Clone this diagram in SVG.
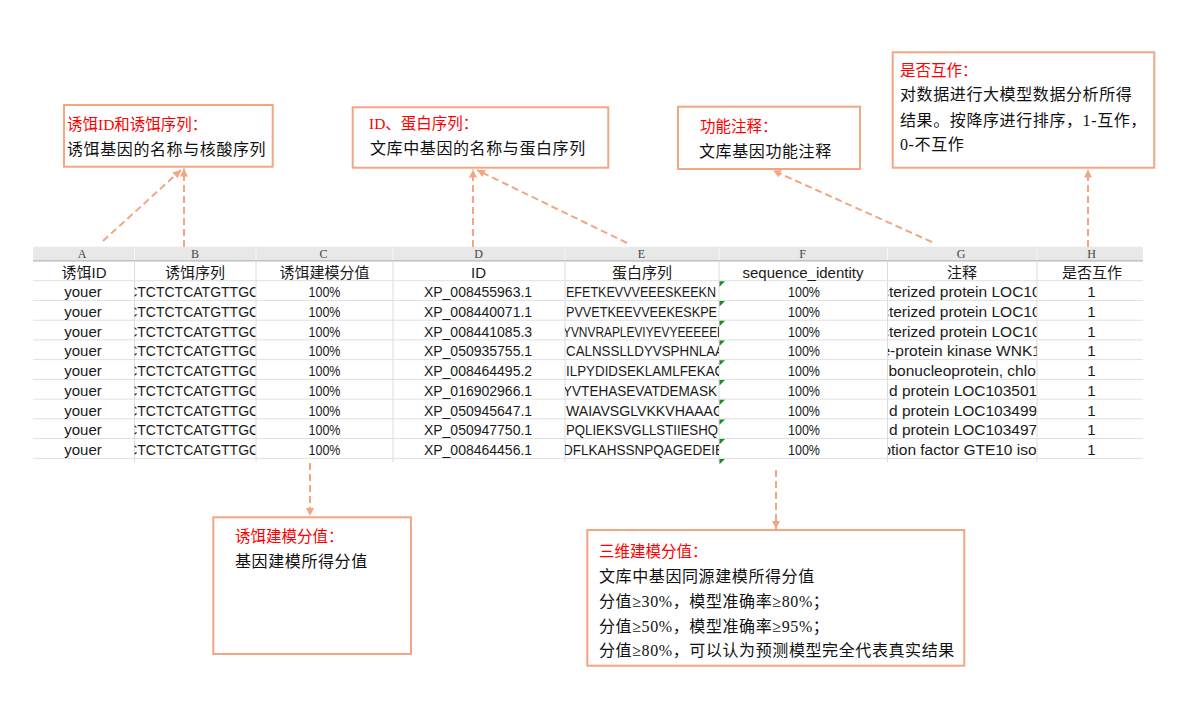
<svg xmlns="http://www.w3.org/2000/svg" width="1197" height="713" viewBox="0 0 1197 713">
<style>
.box{fill:#fff;stroke:#F3A682;stroke-width:2}
.con{fill:none;stroke:#F3A682;stroke-width:2;stroke-dasharray:7 4}
.ttl{font-family:"Liberation Serif","Noto Sans CJK SC",serif;font-size:15.5px;fill:#ff0000}
.bd{font-family:"Liberation Serif","Noto Sans CJK SC",serif;font-size:16px;letter-spacing:0.6px;fill:#111}
.col{font-family:"Liberation Serif","Noto Sans CJK SC",serif;font-size:12px;fill:#444;text-anchor:middle}
.hd{font-family:"Liberation Sans","Noto Sans CJK SC",sans-serif;font-size:15px;fill:#1a1a1a;text-anchor:middle}
.t{font-family:"Liberation Sans","Noto Sans CJK SC",sans-serif;font-size:14px;fill:#1a1a1a}
.c{text-anchor:middle}
.a{font-size:15px}
.g{font-size:15.5px}
.hl{stroke:#e0e0e0;stroke-width:1}
.vl{stroke:#dcdcdc;stroke-width:1}
.tri{fill:#1f8a1f}
</style>
<defs>
<marker id="ah" viewBox="0 0 10 10" refX="10" refY="5" markerWidth="8" markerHeight="8" markerUnits="userSpaceOnUse" orient="auto">
<path d="M0,0 L10,5 L0,10 z" fill="#F3A682"/>
</marker>
<clipPath id="clipB"><rect x="134.5" y="-5" width="121" height="30"/></clipPath>
<clipPath id="clipE"><rect x="565" y="-5" width="154" height="30"/></clipPath>
<clipPath id="clipG"><rect x="888" y="-5" width="148.5" height="30"/></clipPath>
<path id="gt" d="M0,0.6 h5.5 L0,6 z"/>
</defs>
<rect width="1197" height="713" fill="#fff"/>

<g id="table">
<rect x="33" y="246.7" width="1110" height="14" fill="#e8e8e8"/>
<rect x="33" y="260" width="1110" height="1.6" fill="#c4c4c4"/>
<g stroke="#f6f6f6" stroke-width="1">
<line x1="134.5" y1="247" x2="134.5" y2="260"/>
<line x1="256" y1="247" x2="256" y2="260"/>
<line x1="393" y1="247" x2="393" y2="260"/>
<line x1="565" y1="247" x2="565" y2="260"/>
<line x1="719" y1="247" x2="719" y2="260"/>
<line x1="887.5" y1="247" x2="887.5" y2="260"/>
<line x1="1037" y1="247" x2="1037" y2="260"/>
</g>
<text class="col" x="82" y="258">A</text>
<text class="col" x="195" y="258">B</text>
<text class="col" x="323.5" y="258">C</text>
<text class="col" x="478.5" y="258">D</text>
<text class="col" x="641.5" y="258">E</text>
<text class="col" x="802.5" y="258">F</text>
<text class="col" x="961" y="258">G</text>
<text class="col" x="1091.5" y="258">H</text>

<g class="vl">
<line x1="134.5" y1="261" x2="134.5" y2="462"/>
<line x1="256" y1="261" x2="256" y2="462"/>
<line x1="393" y1="261" x2="393" y2="462"/>
<line x1="565" y1="261" x2="565" y2="462"/>
<line x1="719" y1="261" x2="719" y2="462"/>
<line x1="887.5" y1="261" x2="887.5" y2="462"/>
<line x1="1037" y1="261" x2="1037" y2="462"/>
</g>
<g class="hl">
<line x1="33" y1="280.7" x2="1143" y2="280.7"/>
<line x1="33" y1="300.4" x2="1143" y2="300.4"/>
<line x1="33" y1="320.2" x2="1143" y2="320.2"/>
<line x1="33" y1="339.9" x2="1143" y2="339.9"/>
<line x1="33" y1="359.6" x2="1143" y2="359.6"/>
<line x1="33" y1="379.4" x2="1143" y2="379.4"/>
<line x1="33" y1="399.1" x2="1143" y2="399.1"/>
<line x1="33" y1="418.8" x2="1143" y2="418.8"/>
<line x1="33" y1="438.5" x2="1143" y2="438.5"/>
<line x1="33" y1="458.3" x2="1143" y2="458.3"/>
</g>

<text class="hd" x="84" y="277.5">诱饵ID</text>
<text class="hd" x="195" y="277.5">诱饵序列</text>
<text class="hd" x="324.5" y="277.5">诱饵建模分值</text>
<text class="hd" x="478.5" y="277.5">ID</text>
<text class="hd" x="642" y="277.5">蛋白序列</text>
<text class="hd" x="803" y="277.5">sequence_identity</text>
<text class="hd" x="962" y="277.5">注释</text>
<text class="hd" x="1092" y="277.5">是否互作</text>

<g id="rows">
<g id="row1" transform="translate(0,280.7)">
<use href="#gt" x="719.5" class="tri"/>
<text class="t c a" x="83" y="16.5">youer</text>
<text class="t" x="127.2" y="16.5" clip-path="url(#clipB)">CTCTCTCATGTTGC</text>
<text class="t c" x="324.5" y="16.5" textLength="32" lengthAdjust="spacingAndGlyphs">100%</text>
<text class="t c" x="478" y="16.5">XP_008455963.1</text>
<text class="t" x="566" y="16.5" textLength="150" lengthAdjust="spacingAndGlyphs" clip-path="url(#clipE)">EFETKEVVVEEESKEEKN</text>
<text class="t c" x="804" y="16.5" textLength="32" lengthAdjust="spacingAndGlyphs">100%</text>
<text class="t g" x="881.2" y="16.5" clip-path="url(#clipG)">cterized protein LOC10</text>
<text class="t c a" x="1091.5" y="16.5">1</text>
</g>
<g id="row2" transform="translate(0,300.4)">
<use href="#gt" x="719.5" class="tri"/>
<text class="t c a" x="83" y="16.5">youer</text>
<text class="t" x="127.2" y="16.5" clip-path="url(#clipB)">CTCTCTCATGTTGC</text>
<text class="t c" x="324.5" y="16.5" textLength="32" lengthAdjust="spacingAndGlyphs">100%</text>
<text class="t c" x="478" y="16.5">XP_008440071.1</text>
<text class="t" x="566" y="16.5" textLength="151" lengthAdjust="spacingAndGlyphs" clip-path="url(#clipE)">PVVETKEEVVEEKESKPE</text>
<text class="t c" x="804" y="16.5" textLength="32" lengthAdjust="spacingAndGlyphs">100%</text>
<text class="t g" x="881.2" y="16.5" clip-path="url(#clipG)">cterized protein LOC10</text>
<text class="t c a" x="1091.5" y="16.5">1</text>
</g>
<g id="row3" transform="translate(0,320.2)">
<use href="#gt" x="719.5" class="tri"/>
<text class="t c a" x="83" y="16.5">youer</text>
<text class="t" x="127.2" y="16.5" clip-path="url(#clipB)">CTCTCTCATGTTGC</text>
<text class="t c" x="324.5" y="16.5" textLength="32" lengthAdjust="spacingAndGlyphs">100%</text>
<text class="t c" x="478" y="16.5">XP_008441085.3</text>
<text class="t" x="563" y="16.5" textLength="162" lengthAdjust="spacingAndGlyphs" clip-path="url(#clipE)">YVNVRAPLEVIYEVYEEEEEE</text>
<text class="t c" x="804" y="16.5" textLength="32" lengthAdjust="spacingAndGlyphs">100%</text>
<text class="t g" x="881.2" y="16.5" clip-path="url(#clipG)">cterized protein LOC10</text>
<text class="t c a" x="1091.5" y="16.5">1</text>
</g>
<g id="row4" transform="translate(0,339.9)">
<use href="#gt" x="719.5" class="tri"/>
<text class="t c a" x="83" y="16.5">youer</text>
<text class="t" x="127.2" y="16.5" clip-path="url(#clipB)">CTCTCTCATGTTGC</text>
<text class="t c" x="324.5" y="16.5" textLength="32" lengthAdjust="spacingAndGlyphs">100%</text>
<text class="t c" x="478" y="16.5">XP_050935755.1</text>
<text class="t" x="566" y="16.5" textLength="158" lengthAdjust="spacingAndGlyphs" clip-path="url(#clipE)">CALNSSLLDYVSPHNLAA</text>
<text class="t c" x="804" y="16.5" textLength="32" lengthAdjust="spacingAndGlyphs">100%</text>
<text class="t g" x="881.5" y="16.5" clip-path="url(#clipG)">e-protein kinase WNK1</text>
<text class="t c a" x="1091.5" y="16.5">1</text>
</g>
<g id="row5" transform="translate(0,359.6)">
<use href="#gt" x="719.5" class="tri"/>
<text class="t c a" x="83" y="16.5">youer</text>
<text class="t" x="127.2" y="16.5" clip-path="url(#clipB)">CTCTCTCATGTTGC</text>
<text class="t c" x="324.5" y="16.5" textLength="32" lengthAdjust="spacingAndGlyphs">100%</text>
<text class="t c" x="478" y="16.5">XP_008464495.2</text>
<text class="t" x="566" y="16.5" textLength="159" lengthAdjust="spacingAndGlyphs" clip-path="url(#clipE)">ILPYDIDSEKLAMLFEKAG</text>
<text class="t c" x="804" y="16.5" textLength="32" lengthAdjust="spacingAndGlyphs">100%</text>
<text class="t g" x="885" y="16.5" clip-path="url(#clipG)">ibonucleoprotein, chlo</text>
<text class="t c a" x="1091.5" y="16.5">1</text>
</g>
<g id="row6" transform="translate(0,379.4)">
<use href="#gt" x="719.5" class="tri"/>
<text class="t c a" x="83" y="16.5">youer</text>
<text class="t" x="127.2" y="16.5" clip-path="url(#clipB)">CTCTCTCATGTTGC</text>
<text class="t c" x="324.5" y="16.5" textLength="32" lengthAdjust="spacingAndGlyphs">100%</text>
<text class="t c" x="478" y="16.5">XP_016902966.1</text>
<text class="t" x="563" y="16.5" textLength="154" lengthAdjust="spacingAndGlyphs" clip-path="url(#clipE)">YVTEHASEVATDEMASK</text>
<text class="t c" x="804" y="16.5" textLength="32" lengthAdjust="spacingAndGlyphs">100%</text>
<text class="t g" x="889" y="16.5" clip-path="url(#clipG)">d protein LOC1035012</text>
<text class="t c a" x="1091.5" y="16.5">1</text>
</g>
<g id="row7" transform="translate(0,399.1)">
<use href="#gt" x="719.5" class="tri"/>
<text class="t c a" x="83" y="16.5">youer</text>
<text class="t" x="127.2" y="16.5" clip-path="url(#clipB)">CTCTCTCATGTTGC</text>
<text class="t c" x="324.5" y="16.5" textLength="32" lengthAdjust="spacingAndGlyphs">100%</text>
<text class="t c" x="478" y="16.5">XP_050945647.1</text>
<text class="t" x="566" y="16.5" textLength="158" lengthAdjust="spacingAndGlyphs" clip-path="url(#clipE)">WAIAVSGLVKKVHAAAG</text>
<text class="t c" x="804" y="16.5" textLength="32" lengthAdjust="spacingAndGlyphs">100%</text>
<text class="t g" x="889" y="16.5" clip-path="url(#clipG)">d protein LOC1034993</text>
<text class="t c a" x="1091.5" y="16.5">1</text>
</g>
<g id="row8" transform="translate(0,418.8)">
<use href="#gt" x="719.5" class="tri"/>
<text class="t c a" x="83" y="16.5">youer</text>
<text class="t" x="127.2" y="16.5" clip-path="url(#clipB)">CTCTCTCATGTTGC</text>
<text class="t c" x="324.5" y="16.5" textLength="32" lengthAdjust="spacingAndGlyphs">100%</text>
<text class="t c" x="478" y="16.5">XP_050947750.1</text>
<text class="t" x="566" y="16.5" textLength="152" lengthAdjust="spacingAndGlyphs" clip-path="url(#clipE)">PQLIEKSVGLLSTIIESHQ</text>
<text class="t c" x="804" y="16.5" textLength="32" lengthAdjust="spacingAndGlyphs">100%</text>
<text class="t g" x="889" y="16.5" clip-path="url(#clipG)">d protein LOC1034979</text>
<text class="t c a" x="1091.5" y="16.5">1</text>
</g>
<g id="row9" transform="translate(0,438.5)">
<use href="#gt" x="719.5" class="tri"/>
<text class="t c a" x="83" y="16.5">youer</text>
<text class="t" x="127.2" y="16.5" clip-path="url(#clipB)">CTCTCTCATGTTGC</text>
<text class="t c" x="324.5" y="16.5" textLength="32" lengthAdjust="spacingAndGlyphs">100%</text>
<text class="t c" x="478" y="16.5">XP_008464456.1</text>
<text class="t" x="563" y="16.5" textLength="161" lengthAdjust="spacingAndGlyphs" clip-path="url(#clipE)">DFLKAHSSNPQAGEDEIE</text>
<text class="t c" x="804" y="16.5" textLength="32" lengthAdjust="spacingAndGlyphs">100%</text>
<text class="t g" x="882.4" y="16.5" clip-path="url(#clipG)">ption factor GTE10 iso</text>
<text class="t c a" x="1091.5" y="16.5">1</text>
</g>
<use href="#gt" x="719.5" y="458.3" class="tri"/>
</g>
</g>

<g id="callout-bait-id">
<rect class="box" x="64" y="105" width="208.7" height="61.7"/>
<text class="ttl" x="67" y="130">诱饵ID和诱饵序列：</text>
<text class="bd" x="67" y="155">诱饵基因的名称与核酸序列</text>
</g>
<g id="callout-protein-id">
<rect class="box" x="352.7" y="107.3" width="255.6" height="60.4"/>
<text class="ttl" x="369" y="129">ID、蛋白序列：</text>
<text class="bd" x="370" y="154">文库中基因的名称与蛋白序列</text>
</g>
<g id="callout-annotation">
<rect class="box" x="678" y="106.7" width="182" height="62.3"/>
<text class="ttl" x="700" y="132">功能注释：</text>
<text class="bd" x="699" y="157">文库基因功能注释</text>
</g>
<g id="callout-interaction">
<rect class="box" x="892.7" y="52.3" width="261.6" height="115.4"/>
<text class="ttl" x="900" y="76">是否互作：</text>
<text class="bd" x="900" y="100">对数据进行大模型数据分析所得</text>
<text class="bd" x="900" y="126">结果。按降序进行排序，1-互作，</text>
<text class="bd" x="900" y="150">0-不互作</text>
</g>
<g id="callout-bait-score">
<rect class="box" x="213.3" y="517.3" width="197.7" height="136.7"/>
<text class="ttl" x="235" y="542">诱饵建模分值：</text>
<text class="bd" x="235" y="567">基因建模所得分值</text>
</g>
<g id="callout-3d-score">
<rect class="box" x="587.3" y="530" width="377" height="135.7"/>
<text class="ttl" x="599" y="557">三维建模分值：</text>
<text class="bd" x="599" y="581.5">文库中基因同源建模所得分值</text>
<text class="bd" x="599" y="606.5">分值≥30%，模型准确率≥80%；</text>
<text class="bd" x="599" y="631.5">分值≥50%，模型准确率≥95%；</text>
<text class="bd" x="599" y="656">分值≥80%，可以认为预测模型完全代表真实结果</text>
</g>

<g id="connectors">
<line class="con" x1="103" y1="241" x2="181" y2="170" marker-end="url(#ah)"/>
<line class="con" x1="184" y1="247" x2="184" y2="168.5" marker-end="url(#ah)"/>
<line class="con" x1="473" y1="247" x2="473" y2="169.5" marker-end="url(#ah)"/>
<line class="con" x1="627" y1="243" x2="477" y2="170" marker-end="url(#ah)"/>
<line class="con" x1="932" y1="242" x2="773" y2="170.5" marker-end="url(#ah)"/>
<line class="con" x1="1088" y1="247" x2="1088" y2="169.5" marker-end="url(#ah)"/>
<line class="con" x1="310" y1="463" x2="310" y2="516" marker-end="url(#ah)"/>
<line class="con" x1="776" y1="470" x2="776" y2="529" marker-end="url(#ah)"/>
</g>
</svg>
